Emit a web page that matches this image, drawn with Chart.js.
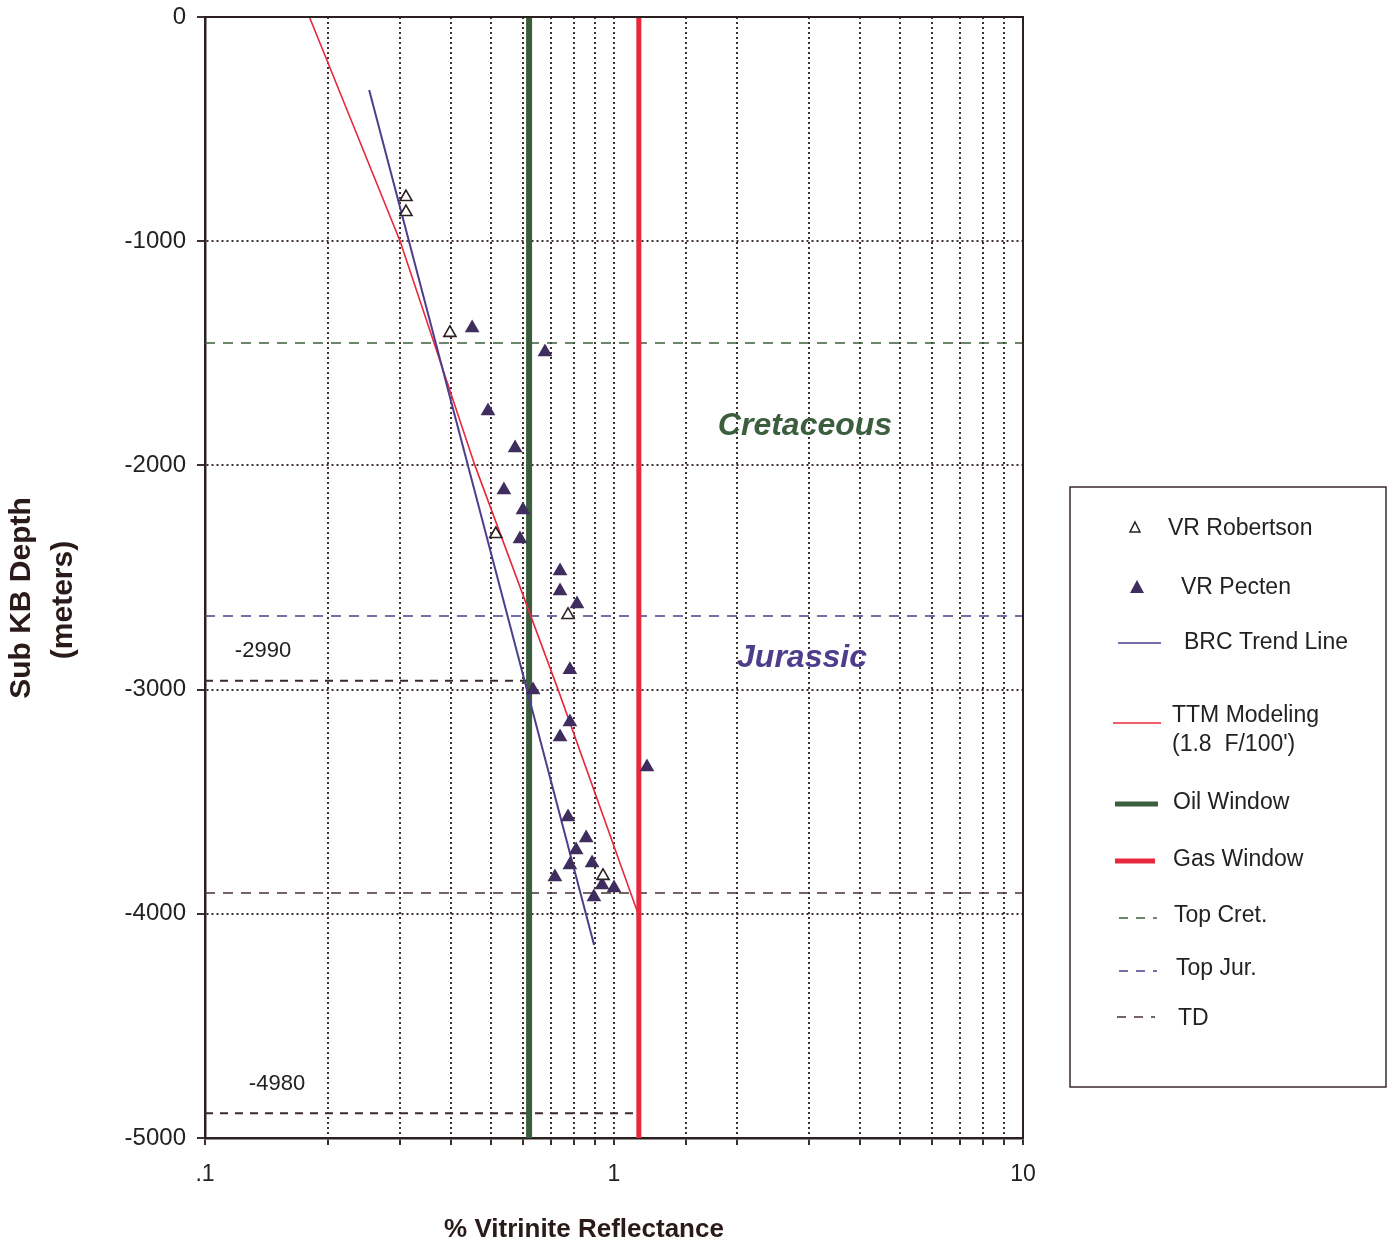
<!DOCTYPE html>
<html>
<head>
<meta charset="utf-8">
<script src="https://cdn.jsdelivr.net/npm/chart.js@4.4.0/dist/chart.umd.min.js"></script>
<style>
  html, body { margin: 0; padding: 0; background: #fff; }
  #wrap { width: 1393px; height: 1247px; position: relative; }
</style>
</head>
<body>
<div id="wrap"><canvas id="myChart" width="1393" height="1247"></canvas></div>
<script>
// VR samples (x = % Ro, y = depth in m)
var robertsonVR    = [0.31, 0.31, 0.397, 0.514, 0.772, 0.94];
var robertsonDepth = [-803, -870, -1409, -2306, -2667, -3831];

var pectenVR    = [0.45, 0.678, 0.492, 0.573, 0.538, 0.599, 0.589, 0.738, 0.738, 0.812,
                   0.780, 0.634, 0.780, 0.738, 1.204, 0.772, 0.855, 0.808, 0.884, 0.780,
                   0.717, 0.935, 1.0, 0.893];
var pectenDepth = [-1387, -1494, -1757, -1922, -2110, -2199, -2328, -2471, -2560, -2618,
                   -2912, -3002, -3144, -3211, -3345, -3568, -3662, -3715, -3773, -3782,
                   -3836, -3871, -3885, -3925];

var trendVR    = [0.252, 0.894];
var trendDepth = [-326, -4139];

var ttmVR    = [0.18, 0.30, 0.457, 0.73, 1.14];
var ttmDepth = [0, -1000, -2000, -3000, -3990];

var oilWindowVR = 0.62;
var gasWindowVR = 1.15;

var topCretDepth = -1454;
var topJurDepth  = -2672;
var tdDepth      = -3907;

// short depth marks at the left
var markLabels = ['-2990', '-4980'];
var markDepth  = [-2960, -4890];
var markEndVR  = [0.62, 1.15];

var xTickLabels = ['.1', '1', '10'];
var yTicks = [0, -1000, -2000, -3000, -4000, -5000];

var FONT = '"Liberation Sans", Arial, Helvetica, sans-serif';
var gridCol = '#3e3030';
var axisCol = '#2a2020';
var green = '#3b5f3e';
var red = '#e8283c';
var purple = '#4d3d8c';
var pectenCol = '#3e2d5e';

function pts(xs, ys) {
  return xs.map(function(x, i){ return {x: x, y: ys[i]}; });
}
function hline(depth, x0, x1) {
  return [{x: x0, y: depth}, {x: x1, y: depth}];
}

var extras = {
  id: 'extras',
  afterDraw: function(chart) {
    var ctx = chart.ctx, a = chart.chartArea;
    ctx.save();
    // frame top / right
    ctx.strokeStyle = axisCol;
    ctx.lineWidth = 2;
    ctx.beginPath();
    ctx.moveTo(a.left, a.top);
    ctx.lineTo(a.right, a.top);
    ctx.lineTo(a.right, a.bottom);
    ctx.stroke();

    // depth marks text
    ctx.fillStyle = '#222';
    ctx.font = '22px ' + FONT;
    ctx.textAlign = 'center';
    ctx.textBaseline = 'middle';
    ctx.fillText(markLabels[0], 263, 651);
    ctx.fillText(markLabels[1], 277, 1084);

    // formation names
    ctx.font = 'italic bold 32px ' + FONT;
    ctx.fillStyle = green;
    ctx.fillText('Cretaceous', 805, 426);
    ctx.fillStyle = purple;
    ctx.fillText('Jurassic', 802, 658);

    // axis titles
    ctx.fillStyle = '#2a1a1a';
    ctx.font = 'bold 26px ' + FONT;
    ctx.fillText('% Vitrinite Reflectance', 584, 1230);
    ctx.font = 'bold 30px ' + FONT;
    ctx.save();
    ctx.translate(22, 598);
    ctx.rotate(-Math.PI / 2);
    ctx.fillText('Sub KB Depth', 0, 0);
    ctx.restore();
    ctx.save();
    ctx.translate(64, 600);
    ctx.rotate(-Math.PI / 2);
    ctx.fillText('(meters)', 0, 0);
    ctx.restore();

    // legend
    ctx.strokeStyle = '#3a2a2a';
    ctx.lineWidth = 1.5;
    ctx.strokeRect(1070, 487, 316, 600);
    ctx.textAlign = 'left';
    ctx.font = '23px ' + FONT;
    ctx.fillStyle = '#222';

    // VR Robertson
    ctx.beginPath();
    ctx.moveTo(1135, 522); ctx.lineTo(1140, 532); ctx.lineTo(1130, 532); ctx.closePath();
    ctx.strokeStyle = axisCol; ctx.lineWidth = 1.5; ctx.stroke();
    ctx.fillText('VR Robertson', 1168, 529);
    // VR Pecten
    ctx.beginPath();
    ctx.moveTo(1137, 580); ctx.lineTo(1144, 593); ctx.lineTo(1130, 593); ctx.closePath();
    ctx.fillStyle = pectenCol; ctx.fill();
    ctx.fillStyle = '#222';
    ctx.fillText('VR Pecten', 1181, 588);

    function legLine(y, x0, x1, col, w, dash) {
      ctx.save();
      ctx.strokeStyle = col; ctx.lineWidth = w;
      ctx.setLineDash(dash || []);
      ctx.beginPath(); ctx.moveTo(x0, y); ctx.lineTo(x1, y); ctx.stroke();
      ctx.restore();
    }
    legLine(643, 1118, 1161, purple, 1.5);
    ctx.fillText('BRC Trend Line', 1184, 643);
    legLine(723, 1113, 1161, red, 1.5);
    ctx.fillText('TTM Modeling', 1172, 716);
    ctx.fillText('(1.8  F/100\')', 1172, 745);
    legLine(804, 1115, 1158, green, 5);
    ctx.fillText('Oil Window', 1173, 803);
    legLine(861, 1115, 1155, red, 5);
    ctx.fillText('Gas Window', 1173, 860);
    legLine(918, 1119, 1157, green, 1.5, [9, 8]);
    ctx.fillText('Top Cret.', 1174, 916);
    legLine(971, 1119, 1157, purple, 1.5, [9, 8]);
    ctx.fillText('Top Jur.', 1176, 969);
    legLine(1017, 1117, 1155, '#4a3030', 1.5, [9, 8]);
    ctx.fillText('TD', 1178, 1019);
    ctx.restore();
  }
};

var ctx = document.getElementById('myChart');
new Chart(ctx, {
  type: 'scatter',
  data: {
    datasets: [
      {
        label: 'VR Robertson',
        data: pts(robertsonVR, robertsonDepth),
        pointStyle: 'triangle',
        pointRadius: 7,
        pointBackgroundColor: '#ffffff',
        pointBorderColor: axisCol,
        pointBorderWidth: 1.6,
        order: 0
      },
      {
        label: 'VR Pecten',
        data: pts(pectenVR, pectenDepth),
        pointStyle: 'triangle',
        pointRadius: 8.5,
        pointBackgroundColor: pectenCol,
        pointBorderColor: pectenCol,
        pointBorderWidth: 0,
        order: 1
      },
      {
        label: 'BRC Trend Line',
        data: pts(trendVR, trendDepth),
        showLine: true, pointRadius: 0,
        borderColor: purple, borderWidth: 2,
        order: 2
      },
      {
        label: 'TTM Modeling',
        data: pts(ttmVR, ttmDepth),
        showLine: true, pointRadius: 0,
        borderColor: red, borderWidth: 1.6,
        order: 3
      },
      {
        label: 'Oil Window',
        data: [{x: oilWindowVR, y: 0}, {x: oilWindowVR, y: -5000}],
        showLine: true, pointRadius: 0,
        borderColor: green, borderWidth: 6,
        order: 4
      },
      {
        label: 'Gas Window',
        data: [{x: gasWindowVR, y: 0}, {x: gasWindowVR, y: -5000}],
        showLine: true, pointRadius: 0,
        borderColor: red, borderWidth: 5,
        order: 5
      },
      {
        label: 'Top Cret.',
        data: hline(topCretDepth, 0.1, 10),
        showLine: true, pointRadius: 0,
        borderColor: green, borderWidth: 1.5, borderDash: [10, 8],
        order: 6
      },
      {
        label: 'Top Jur.',
        data: hline(topJurDepth, 0.1, 10),
        showLine: true, pointRadius: 0,
        borderColor: purple, borderWidth: 1.5, borderDash: [10, 8],
        order: 7
      },
      {
        label: 'TD',
        data: hline(tdDepth, 0.1, 10),
        showLine: true, pointRadius: 0,
        borderColor: '#4a3030', borderWidth: 1.5, borderDash: [10, 8],
        order: 8
      },
      {
        label: markLabels[0],
        data: hline(markDepth[0], 0.1, markEndVR[0]),
        showLine: true, pointRadius: 0,
        borderColor: '#3a2a2a', borderWidth: 2, borderDash: [8, 7],
        order: 9
      },
      {
        label: markLabels[1],
        data: hline(markDepth[1], 0.1, markEndVR[1]),
        showLine: true, pointRadius: 0,
        borderColor: '#3a2a2a', borderWidth: 2, borderDash: [8, 7],
        order: 10
      }
    ]
  },
  options: {
    responsive: false,
    animation: false,
    layout: { padding: { left: 0, right: 370, top: 17, bottom: 0 } },
    plugins: { legend: { display: false }, tooltip: { enabled: false } },
    scales: {
      x: {
        type: 'logarithmic',
        min: 0.1, max: 10,
        grid: { color: gridCol, lineWidth: 2, tickLength: 7 },
        border: { color: axisCol, width: 2.5, dash: [2, 3] },
        ticks: {
          autoSkip: false, maxRotation: 0, padding: 16,
          color: '#222', font: { size: 23, family: FONT },
          callback: function(v) {
            var l = Math.log10(v);
            if (Math.abs(l - Math.round(l)) < 1e-6) return xTickLabels[Math.round(l) + 1];
            return '';
          }
        },
        afterFit: function(s) { s.height = 109; s.paddingLeft = 0; s.paddingRight = 0; }
      },
      y: {
        min: -5000, max: 0,
        grid: { color: gridCol, lineWidth: 2, tickLength: 8 },
        border: { color: axisCol, width: 2.5, dash: [2, 3] },
        ticks: {
          stepSize: 1000, padding: 11,
          color: '#222', font: { size: 24, family: FONT },
          callback: function(v) { return yTicks.indexOf(v) >= 0 ? String(v) : ''; }
        },
        afterFit: function(s) { s.width = 205; s.paddingTop = 0; s.paddingBottom = 0; }
      }
    }
  },
  plugins: [extras]
});
</script>
</body>
</html>
